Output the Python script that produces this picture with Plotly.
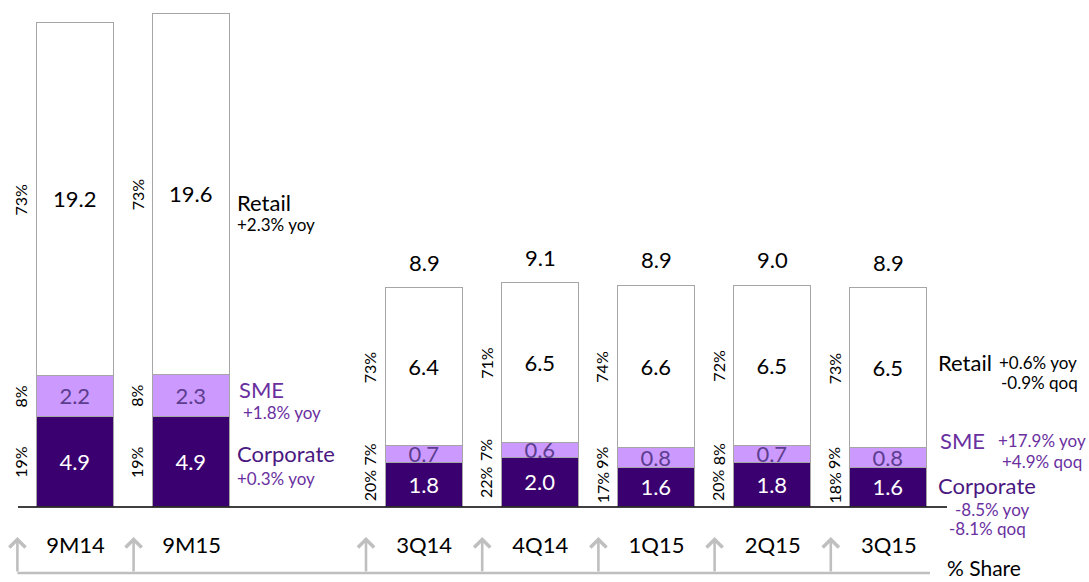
import plotly.graph_objects as go

# ---------------- data ----------------
categories = ["9M14", "9M15", "3Q14", "4Q14", "1Q15", "2Q15", "3Q15"]
positions = [0, 1, 3, 4, 5, 6, 7]
corporate = [4.9, 4.9, 1.8, 2.0, 1.6, 1.8, 1.6]
sme = [2.2, 2.3, 0.7, 0.6, 0.8, 0.7, 0.8]
retail = [19.2, 19.6, 6.4, 6.5, 6.6, 6.5, 6.5]
totals_q = [8.9, 9.1, 8.9, 9.0, 8.9]
corp_pct = ["19%", "19%", "20%", "22%", "17%", "20%", "18%"]
sme_pct = ["8%", "8%", "7%", "7%", "9%", "8%", "9%"]
retail_pct = ["73%", "73%", "73%", "71%", "74%", "72%", "73%"]

# ---------------- layout helpers ----------------
W, H = 1089, 582
M_T, M_B = 10, 75
PLOT_H = H - M_T - M_B          # 497
BASE_PX = H - M_B               # 507
X0_PX, DX_PX = 75.5, 116.2      # pixel of position 0 and per unit
LEFT_PPU, RIGHT_PPU = 18.4, 24.6


def xd(px):
    return (px - X0_PX) / DX_PX


def yp(py):
    return (BASE_PX - py) / PLOT_H


FONT = "Lato, 'Open Sans', Arial, sans-serif"
DARK = "#3a0070"
LAV = "#cc99ff"
SME_TXT = "#5c3d8f"
PURP = "#6a30a0"
EDGE = "#a6a6a6"
GREY = "#bfbfbf"
BW = 0.663

fig = go.Figure()

groups = [(slice(0, 2), "y"), (slice(2, 7), "y2")]
for sl, yax in groups:
    xs = positions[sl]
    fig.add_trace(go.Bar(
        x=xs, y=corporate[sl], yaxis=yax, width=BW,
        marker=dict(color=DARK, line=dict(color=EDGE, width=1.5)),
        text=[f"{v:.1f}" for v in corporate[sl]], textposition="inside",
        insidetextanchor="middle", constraintext="none", textangle=0,
        textfont=dict(color="white", size=22, family=FONT),
        showlegend=False, hoverinfo="skip"))
    fig.add_trace(go.Bar(
        x=xs, y=sme[sl], yaxis=yax, width=BW,
        marker=dict(color=LAV, line=dict(color=EDGE, width=1.5)),
        text=[f"{v:.1f}" for v in sme[sl]], textposition="inside",
        insidetextanchor="middle", constraintext="none", textangle=0,
        textfont=dict(color=SME_TXT, size=22, family=FONT),
        showlegend=False, hoverinfo="skip"))
    fig.add_trace(go.Bar(
        x=xs, y=retail[sl], yaxis=yax, width=BW,
        marker=dict(color="white", line=dict(color=EDGE, width=1.5)),
        text=[f"{v:.1f}" for v in retail[sl]], textposition="inside",
        insidetextanchor="middle", constraintext="none", textangle=0,
        textfont=dict(color="black", size=22, family=FONT),
        showlegend=False, hoverinfo="skip"))

ann = []
# percentage share labels (rotated), at segment centres
for i, p in enumerate(positions):
    yref = "y" if i < 2 else "y2"
    c, s, r = corporate[i], sme[i], retail[i]
    for val, txt in ((c / 2, corp_pct[i]), (c + s / 2, sme_pct[i]), (c + s + r / 2, retail_pct[i])):
        ann.append(dict(x=p - 0.47, y=val, xref="x", yref=yref, text=txt, textangle=-90,
                        showarrow=False, font=dict(size=16, family=FONT, color="black"),
                        xanchor="center", yanchor="middle"))

# totals above quarterly bars
for j, p in enumerate(positions[2:]):
    i = j + 2
    top = corporate[i] + sme[i] + retail[i]
    ann.append(dict(x=p, y=top, xref="x", yref="y2", text=f"{totals_q[j]:.1f}",
                    showarrow=False, yshift=26, font=dict(size=22, family=FONT, color="black"),
                    xanchor="center", yanchor="middle"))


def label(px, py, text, size, color, anchor="left"):
    ann.append(dict(x=xd(px), y=yp(py), xref="x", yref="paper", text=text, showarrow=False,
                    font=dict(size=size, family=FONT, color=color),
                    xanchor=anchor, yanchor="middle"))


# left-group segment names
label(235, 202, "Retail", 22, "black")
label(235, 225, "+2.3% yoy", 17, "black")
label(237, 389, "SME", 22, PURP)
label(241, 412, "+1.8% yoy", 17, PURP)
label(235, 453, "Corporate", 22, "#4a1880")
label(235, 478, "+0.3% yoy", 17, PURP)

# right-group segment names
label(936, 362, "Retail", 22, "black")
label(997, 362, "+0.6% yoy", 17, "black")
label(999, 382, "-0.9% qoq", 17, "black")
label(938, 440, "SME", 22, PURP)
label(996, 440, "+17.9% yoy", 17, PURP)
label(1000, 461, "+4.9% qoq", 17, PURP)
label(936, 485, "Corporate", 22, "#4a1880")
label(953, 510, "-8.5% yoy", 17, PURP)
label(947, 528, "-8.1% qoq", 17, PURP)
label(945, 567, "% Share", 21, "black")

# grey arrows pointing up to the share labels
for i, p in enumerate(positions):
    ann.append(dict(x=p - 0.5, y=yp(537), xref="x", yref="paper", ax=0, ay=36,
                    axref="pixel", ayref="pixel", text="", showarrow=True,
                    arrowhead=4, arrowsize=1.2, arrowwidth=2.6, arrowcolor=GREY))

shapes = [
    # baseline
    dict(type="line", xref="x", yref="paper", x0=xd(18), x1=xd(947), y0=0, y1=0,
         line=dict(color="black", width=1.5)),
    # bottom grey bracket line
    dict(type="line", xref="x", yref="paper", x0=positions[0] - 0.5, x1=xd(930),
         y0=yp(573), y1=yp(573), line=dict(color=GREY, width=2.6)),
]

fig.update_layout(
    width=W, height=H,
    margin=dict(l=0, r=0, t=M_T, b=M_B),
    paper_bgcolor="white", plot_bgcolor="white",
    barmode="stack", bargap=0,
    showlegend=False,
    font=dict(family=FONT),
    xaxis=dict(range=[xd(0), xd(W)], tickvals=positions, ticktext=categories,
               ticks="outside", ticklen=19, tickcolor="rgba(0,0,0,0)",
               tickfont=dict(size=22, family=FONT, color="black"),
               showgrid=False, zeroline=False, showline=False, fixedrange=True),
    yaxis=dict(range=[0, PLOT_H / LEFT_PPU], visible=False, showgrid=False, fixedrange=True),
    yaxis2=dict(range=[0, PLOT_H / RIGHT_PPU], visible=False, showgrid=False,
                overlaying="y", fixedrange=True),
    annotations=ann,
    shapes=shapes,
)

fig.write_html("out.html")
